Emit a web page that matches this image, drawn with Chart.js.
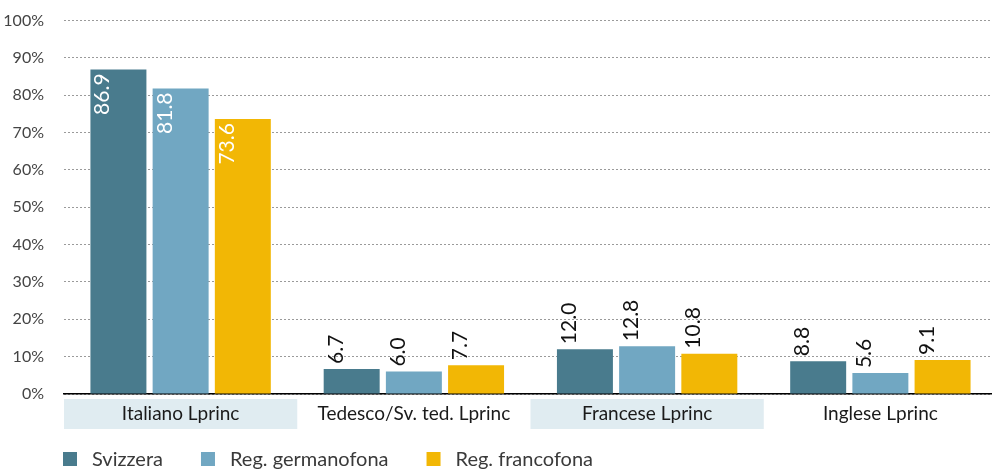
<!DOCTYPE html>
<html>
<head>
<meta charset="utf-8">
<script src="https://cdn.jsdelivr.net/npm/chart.js@4.4.1/dist/chart.umd.min.js"></script>
<style>
  html, body { margin: 0; padding: 0; background: #fff; overflow: hidden; }
  #wrap { width: 997px; height: 469px; position: relative; }
</style>
</head>
<body>
<div id="wrap"><canvas id="c"></canvas></div>
<script>
// Categories and series
const categories = ['Italiano Lprinc', 'Tedesco/Sv. ted. Lprinc', 'Francese Lprinc', 'Inglese Lprinc'];
const seriesNames = ['Svizzera', 'Reg. germanofona', 'Reg. francofona'];
const svizzera = [86.9, 6.7, 12.0, 8.8];
const germanofona = [81.8, 6.0, 12.8, 5.6];
const francofona = [73.6, 7.7, 10.8, 9.1];
const seriesColors = ['#497b8d', '#71a7c2', '#f2b705'];
const shadedCategories = [0, 2];

const FONT = 'Lato, "Open Sans", sans-serif';

// Light bands behind alternating category labels
const bandPlugin = {
  id: 'bands',
  beforeDraw(chart) {
    const { ctx, scales: { x } } = chart;
    const half = (x.right - x.left) / categories.length / 2;
    ctx.save();
    ctx.fillStyle = '#e0ecf1';
    shadedCategories.forEach(i => {
      const cx = x.getPixelForTick(i);
      ctx.fillRect(cx - half, 399, half * 2, 30);
    });
    ctx.restore();
  }
};

// Rotated value labels: inside tall bars, above short ones
const valueLabelPlugin = {
  id: 'valueLabels',
  afterDatasetsDraw(chart) {
    const { ctx } = chart;
    ctx.save();
    ctx.font = '21px ' + FONT;
    ctx.textBaseline = 'alphabetic';
    chart.data.datasets.forEach((ds, di) => {
      const meta = chart.getDatasetMeta(di);
      meta.data.forEach((bar, i) => {
        const v = ds.data[i];
        const left = bar.x - bar.width / 2;
        ctx.save();
        if (v > 40) {
          ctx.translate(left + 19, bar.y + 4);
          ctx.rotate(-Math.PI / 2);
          ctx.textAlign = 'right';
          ctx.fillStyle = '#ffffff';
        } else {
          ctx.translate(left + 19, bar.y - 5);
          ctx.rotate(-Math.PI / 2);
          ctx.textAlign = 'left';
          ctx.fillStyle = '#111111';
        }
        ctx.fillText(v.toFixed(1), 0, 0);
        ctx.restore();
      });
    });
    ctx.restore();
  }
};

// Legend row along the bottom
const legendPlugin = {
  id: 'legendRow',
  afterDraw(chart) {
    const { ctx } = chart;
    ctx.save();
    ctx.font = '20px ' + FONT;
    ctx.textBaseline = 'middle';
    ctx.textAlign = 'left';
    let x = 63;
    const cy = 459;
    chart.data.datasets.forEach(ds => {
      ctx.fillStyle = ds.backgroundColor;
      ctx.fillRect(x, cy - 7, 14, 14);
      ctx.fillStyle = '#3a3a3a';
      ctx.fillText(ds.label, x + 29, cy + 1);
      x += 29 + ctx.measureText(ds.label).width + 38;
    });
    ctx.restore();
  }
};

const seriesValues = [svizzera, germanofona, francofona];

new Chart(document.getElementById('c'), {
  type: 'bar',
  data: {
    labels: categories,
    datasets: seriesNames.map((name, i) => ({
      label: name,
      data: seriesValues[i],
      backgroundColor: seriesColors[i],
      borderWidth: 0,
      categoryPercentage: 0.8,
      barPercentage: 0.9
    }))
  },
  options: {
    responsive: true,
    maintainAspectRatio: false,
    animation: false,
    layout: { padding: { top: 20.5, right: 0, left: 0, bottom: 0 } },
    plugins: {
      legend: { display: false },
      tooltip: { enabled: false }
    },
    scales: {
      x: {
        grid: { display: false, drawTicks: false },
        border: { display: true, color: '#000000', width: 1.5 },
        ticks: {
          padding: 8,
          color: '#1a1a1a',
          font: { family: FONT, size: 19 }
        },
        afterFit(scale) { scale.height = 75; }
      },
      y: {
        min: 0,
        max: 100,
        grid: { color: '#9a9a9a', lineWidth: 1, drawTicks: false },
        border: { display: false, dash: [2, 2] },
        ticks: {
          stepSize: 10,
          padding: 20,
          color: '#444444',
          font: { family: FONT, size: 16 },
          callback: v => v + '%'
        },
        afterFit(scale) {
          scale.width = 64;
          scale.paddingTop = 0;
          scale.paddingBottom = 0;
        }
      }
    }
  },
  plugins: [bandPlugin, valueLabelPlugin, legendPlugin]
});
</script>
</body>
</html>
